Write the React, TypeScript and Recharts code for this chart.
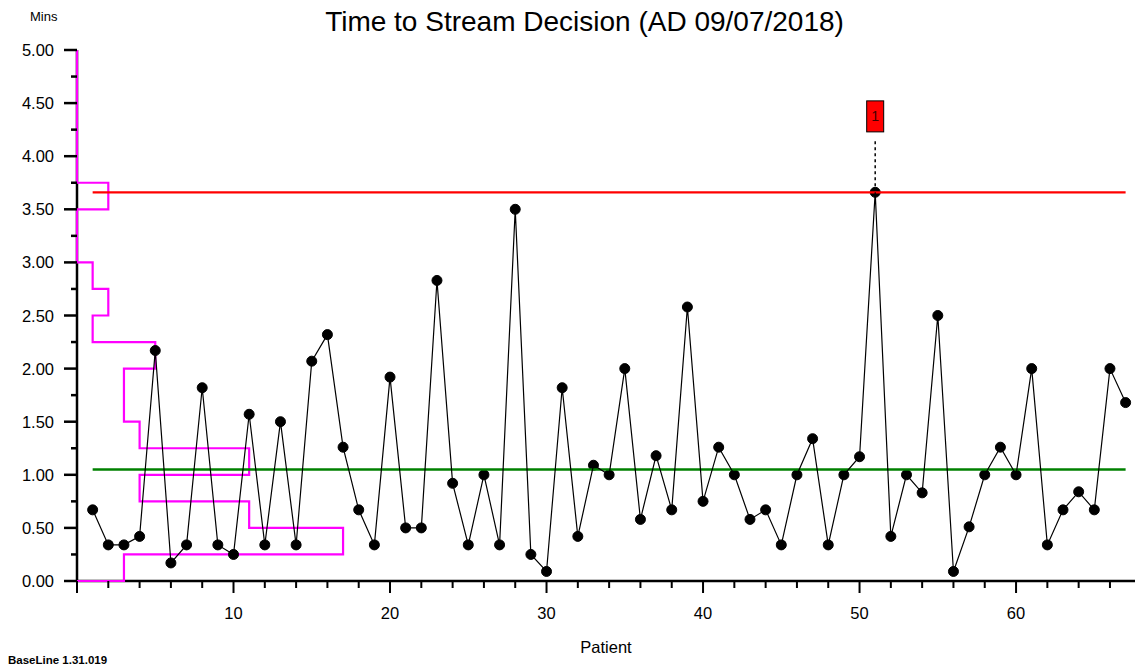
import React from "react";
import {
  ComposedChart,
  Line,
  XAxis,
  YAxis,
  ReferenceLine,
  ReferenceDot,
} from "recharts";

// ---- data ----
const patients: number[] = Array.from({ length: 67 }, (_, i) => i + 1);
const minutes: number[] = [
  0.67, 0.34, 0.34, 0.42, 2.17, 0.17, 0.34, 1.82, 0.34, 0.25,
  1.57, 0.34, 1.5, 0.34, 2.07, 2.32, 1.26, 0.67, 0.34, 1.92,
  0.5, 0.5, 2.83, 0.92, 0.34, 1.0, 0.34, 3.5, 0.25, 0.09,
  1.82, 0.42, 1.09, 1.0, 2.0, 0.58, 1.18, 0.67, 2.58, 0.75,
  1.26, 1.0, 0.58, 0.67, 0.34, 1.0, 1.34, 0.34, 1.0, 1.17,
  3.66, 0.42, 1.0, 0.83, 2.5, 0.09, 0.51, 1.0, 1.26, 1.0,
  2.0, 0.34, 0.67, 0.84, 0.67, 2.0, 1.68,
];
const upperLimit = 3.66;
const meanValue = 1.05;
const binEdges: number[] = Array.from({ length: 21 }, (_, i) => i * 0.25);
const binCounts: number[] = [3, 17, 11, 4, 11, 4, 3, 3, 5, 1, 2, 1, 0, 0, 2, 0, 0, 0, 0, 0];
const xTicks: number[] = Array.from({ length: 34 }, (_, i) => i * 2);
const yTicks: number[] = Array.from({ length: 21 }, (_, i) => i * 0.25);
const flagPatient = 51;
const flagText = "1";
const flagBoxLevel = 4.375;
const flagLineTop = 4.17;

// ---- derived tables ----
const mainData = patients.map((p, i) => ({ x: p, v: minutes[i] }));
const histData: { x: number; h: number }[] = [{ x: 0, h: 0 }];
binCounts.forEach((c, i) => {
  histData.push({ x: c, h: binEdges[i] });
  histData.push({ x: c, h: binEdges[i + 1] });
});
histData.push({ x: 0, h: binEdges[binEdges.length - 1] });
const uclData = [
  { x: patients[0], u: upperLimit },
  { x: patients[patients.length - 1], u: upperLimit },
];
const meanData = [
  { x: patients[0], m: meanValue },
  { x: patients[patients.length - 1], m: meanValue },
];

const FONT = "'Liberation Sans', Arial, sans-serif";

const XTick = (props: any) => {
  const { x, y, payload } = props;
  const major = payload.value % 10 === 0;
  return (
    <g>
      <line x1={x} x2={x} y1={y} y2={y + (major ? 12 : 7)} stroke="#000" strokeWidth={2} />
      {major && payload.value > 0 && (
        <text
          x={x}
          y={y + 32}
          textAnchor="middle"
          dominantBaseline="central"
          fontFamily={FONT}
          fontSize={16.5}
          fill="#000"
        >
          {payload.value}
        </text>
      )}
    </g>
  );
};

const YTick = (props: any) => {
  const { x, y, payload } = props;
  const major = Math.abs((payload.value * 2) % 1) < 1e-9;
  return (
    <g>
      <line x1={x - (major ? 13 : 6)} x2={x} y1={y} y2={y} stroke="#000" strokeWidth={2.5} />
      {major && (
        <text
          x={x - 23}
          y={y}
          textAnchor="end"
          dominantBaseline="central"
          fontFamily={FONT}
          fontSize={16.5}
          fill="#000"
        >
          {payload.value.toFixed(2)}
        </text>
      )}
    </g>
  );
};

const FlagShape = (props: any) => {
  const { cx, cy } = props;
  return (
    <g>
      <rect x={cx - 8.5} y={cy - 15.5} width={17} height={31} fill="#ff0000" stroke="#000" strokeWidth={1} />
      <text
        x={cx}
        y={cy}
        textAnchor="middle"
        dominantBaseline="central"
        fontFamily={FONT}
        fontSize={14}
        fill="#400000"
      >
        {flagText}
      </text>
    </g>
  );
};

export default function App() {
  return (
    <div style={{ position: "absolute", left: 0, top: 0, width: 1135, height: 667, background: "#fff" }}>
      <ComposedChart
        width={1135}
        height={667}
        data={mainData}
        margin={{ top: 50, right: 0, bottom: 0, left: 0 }}
      >
        <XAxis
          dataKey="x"
          type="number"
          domain={[0, 67.6]}
          ticks={xTicks}
          interval={0}
          tickSize={0}
          tickMargin={0}
          tickLine={false}
          tick={<XTick />}
          axisLine={{ stroke: "#000", strokeWidth: 2.5 }}
          height={86}
        />
        <YAxis
          type="number"
          domain={[0, 5]}
          ticks={yTicks}
          interval={0}
          tickSize={0}
          tickMargin={0}
          tickLine={false}
          tick={<YTick />}
          axisLine={{ stroke: "#000", strokeWidth: 2.5 }}
          width={77}
        />
        <Line
          data={histData}
          dataKey="h"
          type="linear"
          stroke="#ff00ff"
          strokeWidth={2.2}
          dot={false}
          activeDot={false}
          isAnimationActive={false}
          zIndex={600}
        />
        <Line
          data={uclData}
          dataKey="u"
          type="linear"
          stroke="#ff0000"
          strokeWidth={2.2}
          dot={false}
          activeDot={false}
          isAnimationActive={false}
          zIndex={610}
        />
        <Line
          data={meanData}
          dataKey="m"
          type="linear"
          stroke="#008000"
          strokeWidth={2.5}
          dot={false}
          activeDot={false}
          isAnimationActive={false}
          zIndex={610}
        />
        <ReferenceLine
          segment={[
            { x: flagPatient, y: upperLimit },
            { x: flagPatient, y: flagLineTop },
          ]}
          stroke="#000"
          strokeWidth={1.5}
          strokeDasharray="3 3"
        />
        <ReferenceDot x={flagPatient} y={flagBoxLevel} r={10} shape={<FlagShape />} />
        <Line
          dataKey="v"
          type="linear"
          stroke="#000"
          strokeWidth={1.2}
          dot={{ r: 5, fill: "#000", stroke: "#000", strokeWidth: 1 }}
          activeDot={false}
          isAnimationActive={false}
          zIndex={620}
        />
      </ComposedChart>
      <div
        style={{
          position: "absolute",
          left: 0,
          width: 1135,
          top: 5,
          textAlign: "center",
          fontFamily: FONT,
          fontSize: 28,
          color: "#000",
          paddingLeft: 34,
          boxSizing: "border-box",
          lineHeight: "34px",
        }}
      >
        Time to Stream Decision (AD 09/07/2018)
      </div>
      <div style={{ position: "absolute", left: 30, top: 9, fontFamily: FONT, fontSize: 13, color: "#000", lineHeight: "16px" }}>
        Mins
      </div>
      <div
        style={{
          position: "absolute",
          left: 77,
          width: 1058,
          top: 637,
          textAlign: "center",
          fontFamily: FONT,
          fontSize: 16.5,
          color: "#000",
          lineHeight: "20px",
        }}
      >
        Patient
      </div>
      <div style={{ position: "absolute", left: 8, top: 654, fontFamily: FONT, fontSize: 11.5, fontWeight: "bold", color: "#000", lineHeight: "13px" }}>
        BaseLine 1.31.019
      </div>
    </div>
  );
}
